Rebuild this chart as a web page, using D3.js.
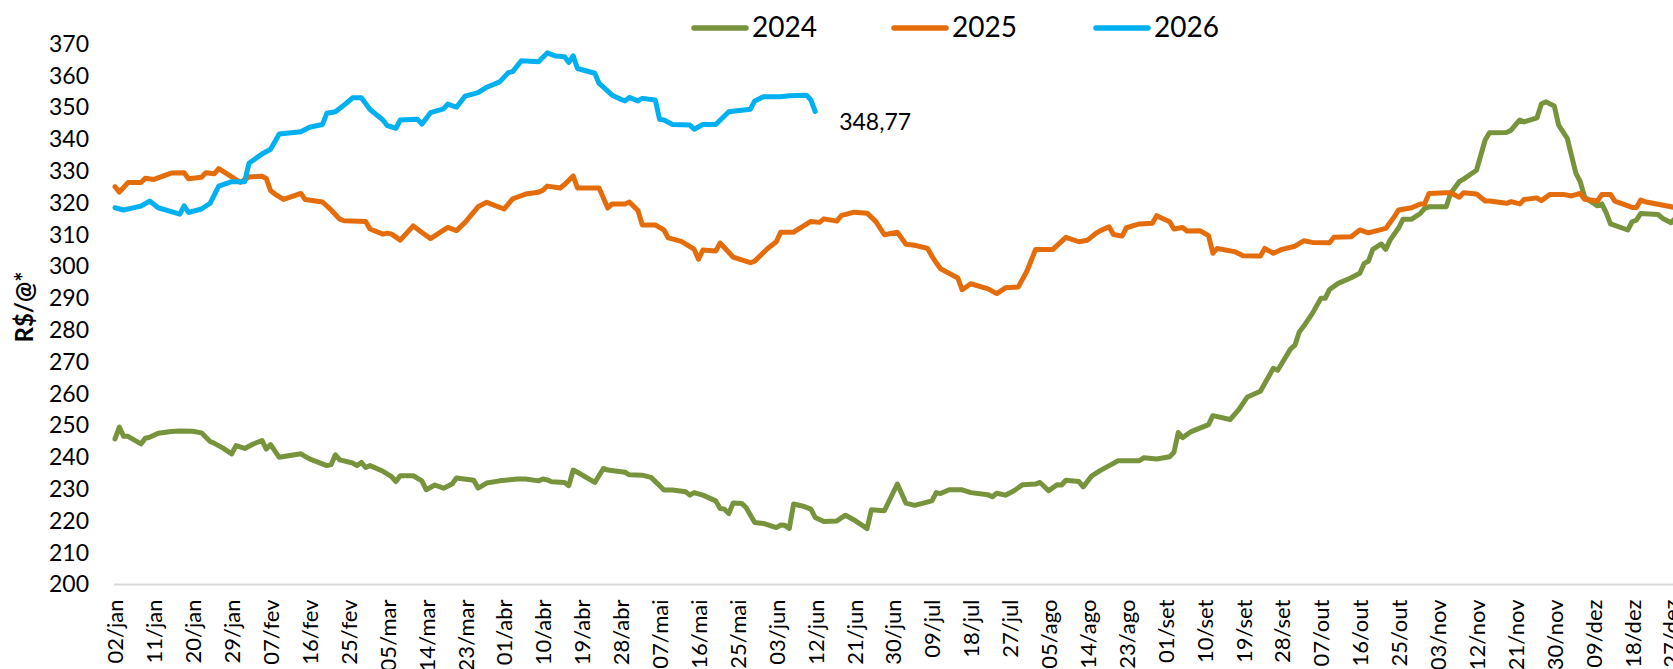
<!DOCTYPE html>
<html>
<head>
<meta charset="utf-8">
<script src="https://cdn.jsdelivr.net/npm/d3@7"></script>
<style>
  html, body { margin: 0; padding: 0; background: #ffffff; }
  svg { display: block; }
  text { font-family: Lato, "Open Sans", sans-serif; fill: #000; }
</style>
</head>
<body>
<svg id="chart" width="1673" height="669"></svg>
<script>
// ---------- DATA ----------
const seriesNames = ["2024", "2025", "2026"];
const seriesColors = ["#77933C", "#E46C0A", "#00B0F0"];
const monthAbbr = ["jan","fev","mar","abr","mai","jun","jul","ago","set","out","nov","dez"];
const yTicks = [200,210,220,230,240,250,260,270,280,290,300,310,320,330,340,350,360,370];
const tickLabels = ["02/jan","11/jan","20/jan","29/jan","07/fev","16/fev","25/fev","05/mar","14/mar","23/mar",
  "01/abr","10/abr","19/abr","28/abr","07/mai","16/mai","25/mai","03/jun","12/jun","21/jun","30/jun",
  "09/jul","18/jul","27/jul","05/ago","14/ago","23/ago","01/set","10/set","19/set","28/set","07/out",
  "16/out","25/out","03/nov","12/nov","21/nov","30/nov","09/dez","18/dez","27/dez"];

const dates2024 = ["01-02","01-03","01-04","01-05","01-08","01-09","01-10","01-12","01-15","01-17","01-20","01-22","01-24","01-25","01-27","01-29","01-30",
  "02-01","02-03","02-05","02-06","02-07","02-09","02-14","02-16","02-20","02-21","02-22","02-23","02-26","02-27","02-28","02-29",
  "03-01","03-04","03-06","03-07","03-08","03-11","03-13","03-14","03-16","03-18","03-20","03-21","03-25","03-26","03-28","03-31",
  "04-04","04-06","04-09","04-10","04-11","04-12","04-15","04-16","04-17","04-18","04-22","04-24","04-25","04-29","04-30",
  "05-03","05-05","05-07","05-08","05-10","05-13","05-14","05-15","05-17","05-20","05-21","05-22","05-23","05-24","05-26","05-27","05-29","05-31",
  "06-03","06-04","06-05","06-06","06-07","06-09","06-11","06-12","06-14","06-17","06-19","06-21","06-24","06-25","06-28",
  "07-01","07-03","07-05","07-09","07-10","07-11","07-13","07-16","07-18","07-22","07-23","07-24","07-26","07-28","07-30",
  "08-02","08-03","08-05","08-07","08-08","08-09","08-12","08-13","08-15","08-17","08-20","08-21","08-26","08-27","08-30",
  "09-02","09-03","09-04","09-05","09-07","09-09","09-11","09-12","09-16","09-18","09-20","09-23","09-26","09-27","09-30",
  "10-01","10-02","10-03","10-05","10-07","10-08","10-09","10-11","10-14","10-16","10-17","10-18","10-19","10-21","10-22","10-23","10-25","10-26","10-28","10-30","10-31",
  "11-01","11-05","11-06","11-08","11-09","11-12","11-14","11-15","11-19","11-20","11-22","11-23","11-26","11-27","11-28","11-30",
  "12-01","12-03","12-05","12-06","12-07","12-08","12-10","12-11","12-12","12-13","12-17","12-18","12-19","12-20","12-24","12-25","12-27","12-29"];
const values2024 = [245.8,249.5,246.6,246.6,244.2,246.0,246.3,247.6,248.1,248.3,248.2,247.7,245.0,244.4,242.9,241.1,243.7,
  242.8,244.2,245.3,242.6,244.0,240.0,241.1,239.5,237.4,237.7,240.8,239.2,238.2,237.4,238.4,236.8,
  237.4,235.6,233.9,232.4,234.2,234.2,232.6,229.8,231.3,230.3,231.6,233.5,232.8,230.3,231.9,232.6,
  233.2,233.2,232.6,233.2,232.9,232.3,232.1,231.1,236.0,235.3,232.1,236.5,236.0,235.3,234.5,
  234.4,233.7,231.1,229.7,229.7,229.2,228.1,228.9,228.1,226.3,223.9,223.7,222.3,225.6,225.5,224.2,219.5,219.2,
  217.9,218.7,218.6,217.6,225.3,224.7,223.7,221.1,219.8,220.0,221.8,220.3,217.6,223.5,223.2,
  231.6,225.6,224.9,226.3,228.9,228.6,229.8,229.8,228.9,228.2,227.6,228.7,228.1,229.5,231.4,
  231.6,232.1,229.5,231.4,231.3,232.8,232.4,230.7,234.2,235.9,238.1,238.9,238.9,239.9,239.5,
  240.2,241.6,247.8,246.2,248.1,249.2,250.3,253.1,251.9,255.0,259.0,260.8,268.0,267.4,274.1,
  275.3,279.4,281.2,285.2,290.0,290.0,292.8,294.7,296.5,297.9,301.0,301.7,305.4,307.1,305.4,308.3,312.2,314.9,314.9,316.7,318.3,
  318.8,318.8,323.0,326.7,327.5,330.3,339.8,342.1,342.2,342.9,346.1,345.5,346.8,351.1,351.8,350.5,
  344.5,340.3,329.3,326.7,321.9,320.9,319.1,319.7,317.0,313.4,311.5,314.1,314.6,316.7,316.4,315.2,313.8,316.7];

const dates2025 = ["01-02","01-03","01-05","01-08","01-09","01-11","01-15","01-18","01-19","01-22","01-23","01-25","01-26","01-31",
  "02-02","02-05","02-06","02-07","02-08","02-10","02-14","02-15","02-19","02-21","02-23","02-24","02-29",
  "03-01","03-04","03-05","03-06","03-08","03-11","03-13","03-15","03-19","03-21","03-23","03-26","03-28",
  "04-01","04-03","04-04","04-06","04-09","04-10","04-11","04-14","04-15","04-17","04-18","04-23","04-25","04-26","04-29","04-30",
  "05-02","05-03","05-06","05-08","05-09","05-12","05-14","05-15","05-16","05-17","05-20","05-21","05-24","05-26","05-28","05-29",
  "06-01","06-03","06-04","06-07","06-11","06-13","06-14","06-17","06-18","06-21","06-24","06-26","06-28",
  "07-01","07-03","07-05","07-08","07-09","07-10","07-11","07-15","07-16","07-18","07-22","07-24","07-26","07-29","07-31",
  "08-02","08-06","08-09","08-12","08-14","08-16","08-17","08-19","08-20","08-22","08-23","08-26","08-29","08-30",
  "09-02","09-03","09-05","09-06","09-09","09-11","09-12","09-13","09-17","09-19","09-23","09-24","09-26","09-28",
  "10-01","10-03","10-05","10-09","10-10","10-14","10-16","10-18","10-22","10-24","10-25","10-28","10-30","10-31",
  "11-01","11-05","11-06","11-08","11-09","11-12","11-14","11-15","11-19","11-20","11-22","11-23","11-26","11-27","11-29",
  "12-02","12-04","12-06","12-07","12-10","12-11","12-13","12-14","12-18","12-19","12-20","12-21","12-29"];
const values2025 = [325.1,323.4,326.4,326.4,327.8,327.4,329.4,329.5,327.6,328.1,329.5,329.2,330.8,326.5,
  328.2,328.4,327.7,323.9,322.8,321.1,323.0,321.1,320.3,317.8,314.9,314.4,314.2,
  311.8,310.2,310.5,310.2,308.3,312.8,310.7,308.8,312.3,311.3,313.9,318.8,320.2,
  318.1,321.3,321.8,322.8,323.4,324.0,325.3,324.7,325.8,328.5,324.7,324.7,318.4,319.7,319.7,320.3,
  317.6,313.1,313.1,311.5,309.0,307.9,306.3,305.4,302.3,305.2,304.9,307.4,303.0,302.1,301.2,301.7,
  305.7,307.8,310.8,310.8,314.2,313.9,315.0,314.3,316.0,317.1,316.8,314.2,310.0,
  310.8,307.0,306.7,305.7,303.3,301.2,299.3,296.4,292.7,294.6,293.0,291.5,293.3,293.6,298.6,
  305.4,305.4,309.2,307.8,308.3,310.5,311.3,312.5,310.1,309.6,312.2,313.4,313.6,316.0,
  314.1,311.8,312.3,311.2,311.3,309.7,304.2,305.7,304.7,303.4,303.3,305.7,304.2,305.4,
  306.4,308.1,307.6,307.5,309.2,309.4,311.5,310.6,312.0,315.7,317.8,318.5,319.7,319.7,
  323.0,323.2,323.2,321.8,323.2,322.8,320.6,320.6,319.9,320.4,319.7,321.1,321.6,320.7,322.7,
  322.7,322.2,323.0,321.2,320.6,322.7,322.7,320.6,318.6,318.6,320.9,320.4,318.3];

const dates2026 = ["01-02","01-04","01-08","01-10","01-12","01-16","01-17","01-18","01-19","01-22","01-24","01-26","01-29",
  "02-01","02-02","02-05","02-07","02-09","02-14","02-16","02-19","02-20","02-22","02-24","02-26","02-28",
  "03-01","03-04","03-05","03-07","03-08","03-12","03-13","03-15","03-18","03-19","03-21","03-23","03-26","03-28","03-31",
  "04-02","04-03","04-05","04-09","04-11","04-13","04-15","04-16","04-17","04-18","04-22","04-23","04-24","04-26","04-28","04-29","04-30",
  "05-02","05-03","05-06","05-07","05-08","05-10","05-14","05-15","05-17","05-20","05-23","05-28","05-29","05-31",
  "06-04","06-06","06-10","06-11","06-12"];
const values2026 = [318.5,317.8,319.0,320.6,318.5,316.9,316.5,319.1,317.0,318.1,319.9,325.3,326.7,
  326.7,332.5,335.4,336.9,341.7,342.4,343.8,344.7,348.2,348.7,350.8,353.1,353.1,
  349.4,346.1,344.3,343.5,346.1,346.3,344.8,348.4,349.6,351.1,350.1,353.6,354.7,356.4,358.1,
  361.0,361.3,364.7,364.4,367.2,366.2,366.0,364.2,366.3,362.3,360.8,357.6,356.4,353.9,352.6,352.1,353.2,
  352.1,352.9,352.4,346.3,346.1,344.7,344.5,343.2,344.7,344.7,348.7,349.5,352.1,353.4,
  353.4,353.7,353.9,352.4,348.77];

const lastLabel = "348,77";
const yTitle = "R$/@*";

// ---------- CHART ----------
const W = 1673, H = 669;
const svg = d3.select("#chart");
svg.append("rect").attr("width", W).attr("height", H).attr("fill", "#fff");

const AXIS_YEAR = 2024; // common (leap-year) calendar axis
const parseMD = md => { const [m, d] = md.split("-").map(Number); return new Date(Date.UTC(AXIS_YEAR, m - 1, d)); };
const parseLabel = lbl => { const [d, mon] = lbl.split("/"); return new Date(Date.UTC(AXIS_YEAR, monthAbbr.indexOf(mon), +d)); };

const tickDates = tickLabels.map(parseLabel);
const x = d3.scaleUtc().domain([tickDates[0], tickDates[tickDates.length - 1]]).range([115, 1671]);
const y = d3.scaleLinear().domain([200, 370]).range([584.5, 44]);

// baseline
svg.append("line")
  .attr("x1", 114).attr("x2", W).attr("y1", y(200)).attr("y2", y(200))
  .attr("stroke", "#d9d9d9").attr("stroke-width", 2);

// y axis
const yAxis = svg.append("g").attr("transform", `translate(${x(tickDates[0])},0)`)
  .call(d3.axisLeft(y).tickValues(yTicks).tickSize(0).tickPadding(26).tickFormat(d3.format("d")));
yAxis.select(".domain").remove();
yAxis.selectAll("text").attr("font-size", 23).attr("font-family", "Lato").attr("fill", "#000");

// x axis
const xAxis = svg.append("g").attr("transform", `translate(0,${y(200)})`)
  .call(d3.axisBottom(x).tickValues(tickDates).tickSize(0).tickFormat((d, i) => tickLabels[i]));
xAxis.select(".domain").remove();
xAxis.selectAll("text")
  .attr("font-size", 22).attr("font-family", "Lato").attr("fill", "#000")
  .attr("transform", "rotate(-90)")
  .attr("text-anchor", "end")
  .attr("x", -15).attr("y", 0).attr("dy", "0.36em");

// y title
svg.append("text")
  .attr("transform", "translate(33,307) rotate(-90)")
  .attr("text-anchor", "middle")
  .attr("font-size", 24).attr("font-weight", "bold")
  .text(yTitle);

// lines
const allDates = [dates2024, dates2025, dates2026];
const allValues = [values2024, values2025, values2026];
const line = d3.line().x(d => x(d.date)).y(d => y(d.value));
const series = allDates.map((ds, k) => ds.map((md, i) => ({ date: parseMD(md), value: allValues[k][i] })));

series.forEach((s, k) => {
  svg.append("path").datum(s)
    .attr("d", line)
    .attr("fill", "none")
    .attr("stroke", seriesColors[k])
    .attr("stroke-width", 5)
    .attr("stroke-linejoin", "round")
    .attr("stroke-linecap", "round");
});

// end label for 2026
const last = series[2][series[2].length - 1];
svg.append("text")
  .attr("x", x(last.date) + 24).attr("y", y(last.value) + 10)
  .attr("dy", "0.35em")
  .attr("font-size", 23)
  .text(lastLabel);

// legend
const legendX = [694, 894, 1096];
const legend = svg.append("g");
seriesNames.forEach((n, k) => {
  legend.append("line")
    .attr("x1", legendX[k]).attr("x2", legendX[k] + 52)
    .attr("y1", 28).attr("y2", 28)
    .attr("stroke", seriesColors[k]).attr("stroke-width", 5.5).attr("stroke-linecap", "round");
  legend.append("text")
    .attr("x", legendX[k] + 58).attr("y", 27).attr("dy", "0.35em")
    .attr("font-size", 28)
    .text(n);
});
</script>
</body>
</html>
